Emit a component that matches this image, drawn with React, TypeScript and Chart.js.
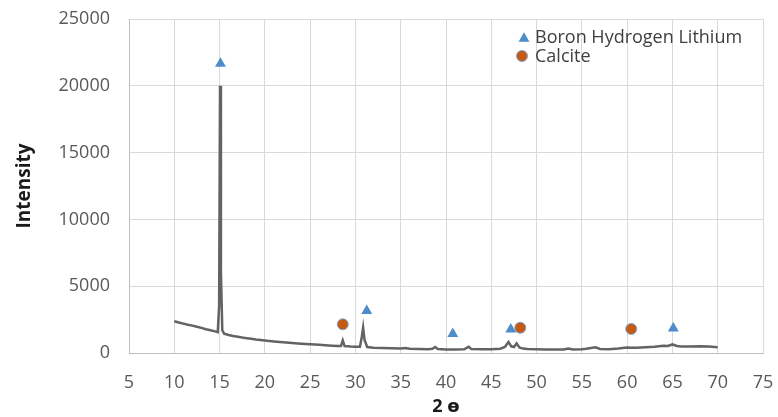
import React, { useEffect, useRef } from "react";
import { Chart, registerables } from "chart.js";

Chart.register(...registerables);

// XRD pattern (2θ, intensity)
const XRD_2THETA = [
  10, 10.5, 11, 11.5, 12, 12.5, 13, 13.5, 14, 14.5, 14.8, 14.95, 15.05, 15.15, 15.3, 15.5,
  16, 16.5, 17, 17.5, 18, 18.5, 19, 19.5, 20, 21, 22, 23, 24, 25, 26, 27, 28, 28.4, 28.6,
  28.8, 29.5, 30, 30.5, 30.7, 30.85, 31.0, 31.3, 32, 33, 34, 35, 35.5, 36, 37, 38, 38.5,
  38.8, 39.1, 40, 41, 42, 42.5, 42.8, 44, 45, 46, 46.5, 46.9, 47.2, 47.5, 47.8, 48.1, 48.5,
  49, 50, 51, 52, 53, 53.5, 54, 55, 55.5, 56, 56.5, 57, 58, 59, 60, 60.5, 61, 62, 63, 64,
  64.5, 65, 65.5, 66, 67, 68, 69, 70,
];
const XRD_INTENSITY = [
  2380, 2280, 2200, 2120, 2050, 1960, 1880, 1780, 1700, 1620, 1560, 3500, 20000, 6000, 1700, 1450,
  1350, 1280, 1220, 1160, 1110, 1060, 1010, 970, 930, 860, 800, 750, 700, 660, 620, 570, 530, 520, 950,
  520, 480, 470, 470, 1200, 1900, 1000, 450, 400, 380, 360, 340, 380, 320, 300, 290, 320,
  450, 300, 260, 260, 280, 460, 290, 280, 290, 320, 450, 830, 500, 450, 720, 420, 330,
  300, 290, 270, 260, 270, 330, 260, 280, 320, 380, 430, 300, 290, 330, 420, 390, 400, 430, 470, 540,
  520, 640, 520, 490, 480, 500, 490, 430,
];

// Phase markers
const BHL_2THETA = [15.1, 31.25, 40.75, 47.15, 65.1];
const BHL_Y = [21660, 3150, 1430, 1770, 1850];
const CALCITE_2THETA = [28.6, 48.2, 60.45];
const CALCITE_Y = [2150, 1890, 1800];

const X_TICKS = [5, 10, 15, 20, 25, 30, 35, 40, 45, 50, 55, 60, 65, 70, 75];
const Y_TICKS = [0, 5000, 10000, 15000, 20000, 25000];

const SERIES_NAMES = ["Boron Hydrogen Lithium", "Calcite"];

const FONT = "'Open Sans', 'DejaVu Sans', sans-serif";
const TRI_COLOR = "#4f8ccc";
const CIRCLE_COLOR = "#c55a11";
const CIRCLE_BORDER = "#7fa6d6";
const LINE_COLOR = "#636363";

const legendPlugin = {
  id: "insideLegend",
  afterDraw(chart: any) {
    const ctx = chart.ctx as CanvasRenderingContext2D;
    const ca = chart.chartArea;
    const baseX = ca.left + (524 - 129);
    const baseY = ca.top + (37 - 19);
    ctx.save();
    const r = 6.3;
    ctx.beginPath();
    for (let i = 0; i < 3; i++) {
      const a = (i * 2 * Math.PI) / 3;
      const px = baseX + Math.sin(a) * r;
      const py = baseY + 1.5 - Math.cos(a) * r;
      if (i === 0) ctx.moveTo(px, py);
      else ctx.lineTo(px, py);
    }
    ctx.closePath();
    ctx.fillStyle = TRI_COLOR;
    ctx.fill();
    ctx.beginPath();
    ctx.arc(baseX - 2, baseY + 19, 5.5, 0, Math.PI * 2);
    ctx.fillStyle = CIRCLE_COLOR;
    ctx.fill();
    ctx.lineWidth = 1;
    ctx.strokeStyle = CIRCLE_BORDER;
    ctx.stroke();
    ctx.fillStyle = "#404040";
    ctx.font = `18px ${FONT}`;
    ctx.textBaseline = "middle";
    ctx.textAlign = "left";
    ctx.fillText(SERIES_NAMES[0], baseX + 11, baseY + 1);
    ctx.fillText(SERIES_NAMES[1], baseX + 11, baseY + 20);
    ctx.restore();
  },
};

export default function App() {
  const canvasRef = useRef<HTMLCanvasElement | null>(null);

  useEffect(() => {
    if (!canvasRef.current) return;
    const chart = new Chart(canvasRef.current, {
      type: "scatter",
      data: {
        datasets: [
          {
            label: SERIES_NAMES[0],
            data: BHL_2THETA.map((x, i) => ({ x, y: BHL_Y[i] })),
            pointStyle: "triangle",
            pointRadius: 6.3,
            pointBackgroundColor: TRI_COLOR,
            pointBorderColor: TRI_COLOR,
            pointBorderWidth: 0,
            showLine: false,
            order: 0,
          },
          {
            label: SERIES_NAMES[1],
            data: CALCITE_2THETA.map((x, i) => ({ x, y: CALCITE_Y[i] })),
            pointStyle: "circle",
            pointRadius: 5.5,
            pointBackgroundColor: CIRCLE_COLOR,
            pointBorderColor: CIRCLE_BORDER,
            pointBorderWidth: 1,
            showLine: false,
            order: 0,
          },
          {
            label: "XRD",
            data: XRD_2THETA.map((x, i) => ({ x, y: XRD_INTENSITY[i] })),
            showLine: true,
            borderColor: LINE_COLOR,
            borderWidth: 2.5,
            pointRadius: 0,
            tension: 0,
            order: 1,
          },
        ],
      },
      options: {
        animation: false,
        responsive: true,
        maintainAspectRatio: false,
        layout: { autoPadding: false, padding: { top: 19, right: 15, left: 0, bottom: 0 } },
        plugins: {
          legend: { display: false },
          tooltip: { enabled: false },
        },
        scales: {
          x: {
            type: "linear",
            min: 5,
            max: 75,
            afterFit: (s: any) => {
              s.height = 64;
              s.paddingLeft = 0;
              s.paddingRight = 0;
            },
            afterBuildTicks: (s: any) => {
              s.ticks = X_TICKS.map((v) => ({ value: v }));
            },
            ticks: {
              padding: 19,
              color: "#595959",
              font: { family: FONT, size: 18 },
              maxRotation: 0,
              autoSkip: false,
            },
            grid: { color: "#d9d9d9", lineWidth: 1, drawTicks: false },
            border: { color: "#bfbfbf" },
            title: {
              display: true,
              text: "2 ɵ",
              color: "#1a1a1a",
              font: { family: FONT, size: 18, weight: "bold", lineHeight: 1 },
              padding: { top: 0, bottom: 1 },
            },
          },
          y: {
            type: "linear",
            min: 0,
            max: 25000,
            afterFit: (s: any) => {
              s.width = 129;
              s.paddingTop = 0;
              s.paddingBottom = 0;
            },
            afterBuildTicks: (s: any) => {
              s.ticks = Y_TICKS.map((v) => ({ value: v }));
            },
            ticks: {
              padding: 19,
              color: "#595959",
              font: { family: FONT, size: 18 },
              callback: (v: any) => String(v),
            },
            grid: { color: "#d9d9d9", lineWidth: 1, drawTicks: false },
            border: { color: "#bfbfbf" },
            title: {
              display: true,
              text: "Intensity",
              color: "#1a1a1a",
              font: { family: FONT, size: 19, weight: "bold", lineHeight: 1 },
              padding: { top: 15, bottom: 0 },
            },
          },
        },
      },
      plugins: [legendPlugin],
    });
    return () => chart.destroy();
  }, []);

  return (
    <div style={{ position: "fixed", left: 0, top: 0, width: 778, height: 417, background: "#fff" }}>
      <canvas ref={canvasRef} />
    </div>
  );
}
